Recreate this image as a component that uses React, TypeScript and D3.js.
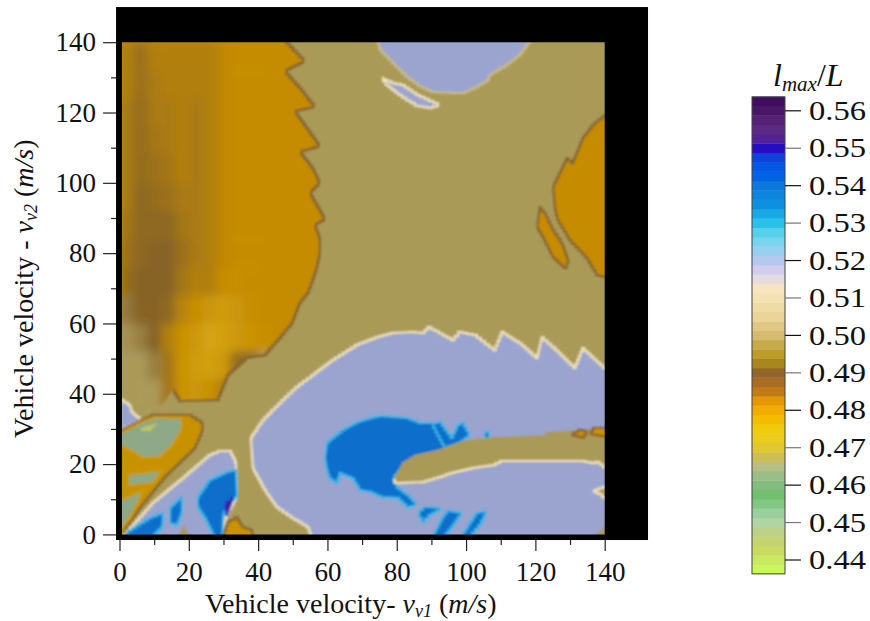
import * as d3 from 'd3';
import { useEffect, useRef } from 'react';

type Pt = [number, number];

const xMajor = [0, 20, 40, 60, 80, 100, 120, 140];
const xMinor = [10, 30, 50, 70, 90, 110, 130];
const yMajor = [0, 20, 40, 60, 80, 100, 120, 140];
const yMinor = [10, 30, 50, 70, 90, 110, 130];
const barTicks = [0.44, 0.45, 0.46, 0.47, 0.48, 0.49, 0.5, 0.51, 0.52, 0.53, 0.54, 0.55, 0.56];

// contour levels of lmax/L
const mapLevels = [0.445, 0.455, 0.472, 0.476, 0.481, 0.4905, 0.497, 0.51, 0.518, 0.53, 0.541, 0.552, 0.56];
const mapColors = ['#c0c860', '#8ea987', '#d6a814', '#cc980a', '#c68c00', '#84622a', '#aa9a58', '#f0e2bc', '#9aa4ce', '#35b4e6', '#0a6ecc', '#3a10b0', '#5a1a70'];

const barLevels = [0.4363, 0.443, 0.447, 0.451, 0.454, 0.4575, 0.461, 0.464, 0.467, 0.47, 0.474, 0.478, 0.482, 0.484, 0.487, 0.4895, 0.4915, 0.494, 0.497, 0.5, 0.505, 0.51, 0.513, 0.515, 0.518, 0.52, 0.524, 0.528, 0.531, 0.535, 0.54, 0.543, 0.547, 0.5505, 0.553, 0.556, 0.56, 0.5637];
const barColors = ['#c8ff60', '#c8d860', '#c0d080', '#a8d8b0', '#88c888', '#70c070', '#88bc80', '#acc090', '#c8bc60', '#e0c830', '#f0d010', '#f4b800', '#f0a000', '#c88010', '#b07020', '#8e5e2e', '#9e7a20', '#b89818', '#c4a640', '#d6bc70', '#ead498', '#f4e2b0', '#f6e6c0', '#e4dce0', '#d0ccf0', '#b8c8f0', '#88d4f0', '#50d0ea', '#18b8e8', '#1090e0', '#0878dc', '#0060e8', '#0c50e0', '#2c00c0', '#5c2a8e', '#5b2a80', '#4a1668', '#3d0d5c'];

// upper-left lobe: jagged outer boundary first, then the faded lower-left side
const lobeEdge: Pt[] = [[47.75, 140.5], [53.5, 134.6], [47.75, 131.8], [52.1, 127], [56.4, 121.6], [50.6, 120.4], [54.1, 115.6], [57.8, 110.5], [52.1, 108.8], [55.8, 104.2], [57.8, 100], [55, 97.1], [59.3, 89.7], [56.4, 88], [57.8, 84.3], [57.8, 80], [57, 76], [55.5, 71.5], [54.4, 68.7], [52, 65.8], [49.8, 60.1], [46.3, 55.9], [42, 51], [36.8, 50.2], [31.3, 45.3], [28.4, 38.2], [17.5, 37.9], [15.4, 41.1]];
const lobeFade: Pt[] = [[11.7, 48.2], [7.4, 53.9], [0.7, 61], [-1, 61], [-1, 140.5]];
const lobeFadeWide: Pt[] = [[12, 36.5], [-1, 36.5], [-1, 140.5]];

// lobe interior, rows from v2=140 downwards (8 m/s each), columns from v1=0 (4 m/s each)
const lobeRowTops = [140, 132, 124, 116, 108, 100, 92, 84, 76, 68, 60, 52, 44];
const lobeColStarts = [0, 4, 8, 12, 16, 20, 24, 28, 32, 36, 40];
const lobeValues = [
  [0.484, 0.487, 0.484, 0.484, 0.484, 0.484, 0.484, 0.482, 0.481, 0.481, 0.481],
  [0.484, 0.487, 0.485, 0.484, 0.484, 0.484, 0.484, 0.482, 0.481, 0.481, 0.481],
  [0.485, 0.488, 0.485, 0.485, 0.484, 0.485, 0.484, 0.482, 0.481, 0.481, 0.481],
  [0.485, 0.488, 0.486, 0.485, 0.484, 0.485, 0.484, 0.482, 0.481, 0.481, 0.481],
  [0.485, 0.488, 0.487, 0.486, 0.484, 0.485, 0.484, 0.482, 0.481, 0.481, 0.481],
  [0.485, 0.489, 0.488, 0.487, 0.485, 0.485, 0.484, 0.482, 0.481, 0.481, 0.481],
  [0.486, 0.489, 0.489, 0.489, 0.486, 0.485, 0.484, 0.482, 0.481, 0.481, 0.481],
  [0.487, 0.489, 0.49, 0.49, 0.487, 0.485, 0.484, 0.482, 0.481, 0.481, 0.481],
  [0.488, 0.49, 0.49, 0.49, 0.486, 0.484, 0.484, 0.481, 0.48, 0.481, 0.481],
  [0.493, 0.49, 0.49, 0.489, 0.483, 0.48, 0.477, 0.475, 0.477, 0.48, 0.481],
  [0.496, 0.494, 0.49, 0.484, 0.479, 0.476, 0.473, 0.474, 0.476, 0.478, 0.48],
  [0.497, 0.497, 0.494, 0.486, 0.478, 0.475, 0.474, 0.476, 0.488, 0.492, 0.497],
  [0.497, 0.497, 0.497, 0.486, 0.478, 0.477, 0.479, 0.484, 0.488, 0.497, 0.497],
];

const rightLobe: Pt[] = [[141, 119.9], [136.6, 116.4], [133.7, 112.7], [130.8, 105.6], [129.1, 107], [127.1, 102.8], [125.1, 98.8], [125.7, 92.3], [126.5, 89.4], [130, 83.7], [134.9, 78.6], [137.8, 73.8], [141, 72.9]];
const rightSliver: Pt[] = [[121.3, 93], [122.8, 91.4], [125.1, 86.6], [127.7, 82.9], [129.7, 77.2], [128.5, 75.8], [125.1, 78.9], [122.2, 84.6], [120.5, 87.4]];
const topCap: Pt[] = [[74.3, 141], [75.2, 137.8], [78, 135], [83, 130.1], [86.7, 127.5], [90.4, 125.8], [99.1, 125.5], [103.1, 127.2], [106.3, 129.2], [106.9, 130.7], [111.8, 133.5], [115.5, 136.3], [119, 141]];
const topSliver: Pt[] = [[75.7, 129.8], [78.9, 128.4], [81.8, 127.8], [86.1, 125], [92.5, 122.1], [89.6, 121.3], [85.8, 121.9], [80.9, 125], [77.2, 127.8]];
const centralRegion: Pt[] = [[55.5, -1], [54.4, 2.1], [50, 4.7], [45.4, 7.8], [42, 12.6], [38.5, 18.9], [37.9, 27.4], [41.4, 32.5], [47.2, 38.2], [51.2, 41.9], [55.8, 45.3], [61.6, 49.6], [68.5, 53.9], [74.3, 56.1], [78.9, 57.3], [84.4, 57.6], [87.6, 57.3], [89.3, 59], [96.2, 55.3], [98.2, 57.6], [102.6, 56.7], [108.3, 52.4], [110.4, 57.6], [115.6, 54.4], [120.5, 50.2], [121.9, 56.1], [126.2, 52.4], [131.4, 47.3], [133.7, 53], [140, 47.3], [141, 47], [141, -1]];
const blueBlob: Pt[] = [[59.3, 21.7], [59.9, 26], [61.6, 27.4], [64.5, 29.7], [68.8, 32], [75.2, 33.7], [83, 33.1], [86.7, 31.7], [90.2, 31.7], [93.9, 28.8], [95.9, 26.3], [93.9, 23.4], [85.8, 21.7], [81.8, 18.9], [78.9, 16], [80.3, 13.2], [83.2, 11.2], [85.8, 8.4], [83.2, 7.8], [80.3, 10.4], [76, 10.6], [72.3, 12.1], [69.4, 12.6], [67.4, 16], [63.6, 17.5], [62.8, 14.6], [60.7, 16], [59.9, 18.3]];
const blueSpike: Pt[] = [[90.2, 31.4], [92.5, 32], [95.9, 27.4], [97.7, 31.1], [99.1, 31.7], [101.1, 28.3], [98.2, 26], [93.9, 24.6]];
const blueDot: Pt[] = [[104.9, 28], [106, 29.1], [107.2, 28], [106, 26.6]];
const dashA: Pt[] = [[86.1, 6.1], [88.1, 7.8], [93, 7.5], [89.6, 5.5], [87.6, 3.5]];
const dashB: Pt[] = [[90.5, -0.5], [93.3, 4.9], [94.8, 6.7], [98.8, 6.1], [95.9, 2.1], [93.9, -0.5]];
const dashC: Pt[] = [[98.8, -0.5], [103.1, 6.1], [106, 6.7], [104, 2.7], [101.1, -0.5]];
const armTop: Pt[] = [[78.9, 15.5], [81.8, 20.6], [85.3, 22.6], [91.7, 24], [99.7, 26.8], [107.8, 27.7], [122.3, 28.3], [123.3, 29.1], [141, 30.3]];
const armBottom: Pt[] = [[141, 19], [140, 19.2], [138, 20.6], [136.6, 20.3], [133.7, 20.9], [110.4, 20.9], [107.8, 19.7], [102, 18.9], [95.9, 17.5], [92.5, 16.3], [87.6, 14.9], [80, 14.6], [78.9, 15.5]];
const armSpotA: Pt[] = [[130.3, 28.3], [133, 29.8], [135.2, 29.2], [133.7, 27.5]];
const armSpotB: Pt[] = [[135.7, 28.6], [136.9, 30.3], [141, 30.3], [141, 27.7]];
const edgePatch: Pt[] = [[136.6, 12.3], [140, 13.5], [141, 13.5], [141, 9.8], [138.6, 11.5]];
const cornerPatch: Pt[] = [[136.6, -1], [141, 3.2], [141, -1]];

const leftPatch: Pt[] = [[-1, 38.2], [0.7, 38.2], [3, 36.8], [3.6, 34.8], [5.3, 33.4], [6.2, 32.3], [0.7, 30], [-1, 30]];
const cluster: Pt[] = [[-1, 29.7], [0.7, 29.7], [9.7, 34], [20.3, 34], [24.1, 31.7], [23.8, 29.1], [21.8, 24.6], [18.3, 21.2], [13.7, 16.9], [9.4, 11.8], [5.9, 7.5], [1.6, 1.3], [0.7, -1], [-1, -1]];
const greenA: Pt[] = [[-1, 29.1], [1, 29.1], [6.5, 32], [10.2, 33.4], [18, 33.1], [18, 29.7], [15.4, 25.4], [11.7, 22], [6.8, 21.7], [3, 24], [1, 24.9], [-1, 24.9]];
const greenSpot: Pt[] = [[6.5, 30.3], [11.1, 31.7], [8.8, 29.4], [5.9, 29.5]];
const greenB: Pt[] = [[2.5, 17.2], [6.8, 17.5], [12.6, 18.3], [9.7, 14.6], [2.5, 13.8]];
const greenC: Pt[] = [[-1, 10.1], [1, 10.1], [6.8, 12.6], [5.3, 8.9], [3, 4.7], [1, 2.1], [-1, 2.1]];
const wedge: Pt[] = [[0.7, -1], [9.7, 9], [18.3, 16], [26.1, 22.6], [29, 23.7], [31.9, 23.7], [33.6, 20.6], [33.9, 10.6], [31.3, 6.1], [29.6, 1.3], [29, -1]];
const wedgeBlueA: Pt[] = [[22.6, 10.6], [26.1, 15.5], [31, 17.7], [33.6, 18.3], [33.9, 10.6], [31.3, 8.9], [29.9, 5.5], [29.6, -1], [27.6, -1], [24.7, 4.7], [22.6, 7.8]];
const wedgeBlueB: Pt[] = [[14.6, 7.5], [18, 10.6], [18, 6.1], [16.6, 2.7], [14.6, 3.2]];
const wedgeBlueC: Pt[] = [[1.9, 0.4], [8.8, 4.7], [12.6, 6.1], [12.3, 2.1], [9.7, -0.5], [1.9, -0.5]];
const wedgeCore: Pt[] = [[30.4, 8.4], [32.7, 10.6], [31.6, 7.5], [31, 5.5]];
const wedgeSpot: Pt[] = [[16.9, -1], [18.3, 2.7], [20.9, -1]];
const footLobe: Pt[] = [[29.9, -1], [31.3, 3.5], [33.9, 4.9], [35.6, 2.1], [38.2, 1.3], [38.5, -1]];

// [outline, fill level, edge level], painted in this order
const lowerRegions: [Pt[], number, number | null][] = [
  [rightLobe, 0.481, 0.4905],
  [rightSliver, 0.481, 0.4905],
  [topCap, 0.518, 0.503],
  [topSliver, 0.518, 0.51],
  [centralRegion, 0.518, 0.51],
  [blueBlob, 0.541, 0.53],
  [blueSpike, 0.541, 0.53],
  [blueDot, 0.541, 0.53],
  [dashA, 0.541, 0.53],
  [dashB, 0.541, 0.53],
  [dashC, 0.541, 0.53],
  [[...armTop, ...armBottom], 0.497, null],
  [armSpotA, 0.478, 0.4905],
  [armSpotB, 0.478, 0.4905],
  [edgePatch, 0.497, 0.51],
  [cornerPatch, 0.497, null],
  [leftPatch, 0.518, 0.51],
  [cluster, 0.479, 0.4905],
  [greenA, 0.455, 0.476],
  [greenSpot, 0.445, null],
  [greenB, 0.455, 0.476],
  [greenC, 0.455, 0.476],
  [wedge, 0.518, 0.51],
  [wedgeBlueA, 0.541, 0.53],
  [wedgeBlueB, 0.541, 0.53],
  [wedgeBlueC, 0.541, 0.53],
  [wedgeCore, 0.56, 0.549],
  [wedgeSpot, 0.497, null],
  [footLobe, 0.478, 0.4905],
];

const WIDTH = 870;
const HEIGHT = 621;
const FONT = '"Liberation Serif", "Times New Roman", serif';
const CELL = 1.3; // the source map is a coarse grid, outlines show its stair steps

// split each segment to about one grid cell, so the step curve gives small stairs
function toCells(points: Pt[], closeIt: boolean): Pt[] {
  const pts = closeIt ? [...points, points[0]] : points;
  const out: Pt[] = [pts[0]];
  for (let i = 1; i < pts.length; i++) {
    const [a, b] = [pts[i - 1], pts[i]];
    const n = Math.max(1, Math.round(Math.hypot(b[0] - a[0], b[1] - a[1]) / CELL));
    for (let k = 1; k <= n; k++) {
      out.push([a[0] + ((b[0] - a[0]) * k) / n, a[1] + ((b[1] - a[1]) * k) / n]);
    }
  }
  return out;
}

export default function App() {
  const svgRef = useRef<SVGSVGElement>(null);

  useEffect(() => {
    if (!svgRef.current) return;
    const svg = d3.select(svgRef.current);
    svg.selectAll('*').remove();

    const x = d3.scaleLinear().domain([0, 140]).range([119.5, 604.7]);
    const y = d3.scaleLinear().domain([0, 140]).range([534.4, 42.2]);
    const fill = d3.scaleLinear<string>().domain(mapLevels).range(mapColors).interpolate(d3.interpolateRgb);
    const barFill = d3.scaleLinear<string>().domain(barLevels).range(barColors).interpolate(d3.interpolateRgb);
    const barY = d3.scaleLinear().domain([0.44, 0.56]).range([560, 110.8]);

    const line = d3.line<Pt>().x((d) => x(d[0])).y((d) => y(d[1]));
    const stairs = d3.line<Pt>().x((d) => x(d[0])).y((d) => y(d[1])).curve(d3.curveStep);
    const closedStairs = (pts: Pt[]) => `${stairs(toCells(pts, true))}Z`;
    const openStairs = (pts: Pt[]) => stairs(toCells(pts, false));

    const defs = svg.append('defs');
    defs.append('filter').attr('id', 'soft').append('feGaussianBlur').attr('stdDeviation', 0.8);
    defs.append('filter').attr('id', 'softer').attr('x', '-10%').attr('y', '-10%').attr('width', '120%').attr('height', '120%').append('feGaussianBlur').attr('stdDeviation', 4.5);
    defs.append('filter').attr('id', 'barSoft').append('feGaussianBlur').attr('stdDeviation', 0.5);
    defs.append('clipPath').attr('id', 'plot').append('rect')
      .attr('x', x(0.7)).attr('y', y(140)).attr('width', x(140) - x(0.7)).attr('height', y(0) - y(140));
    defs.append('clipPath').attr('id', 'lobe').append('path').attr('d', `${line([...lobeEdge, ...lobeFadeWide])}Z`);

    // black frame behind the map
    svg.append('rect')
      .attr('x', x(-1)).attr('y', y(150))
      .attr('width', x(152.5) - x(-1)).attr('height', y(-1.6) - y(150))
      .attr('fill', '#000');

    const plot = svg.append('g').attr('clip-path', 'url(#plot)');
    const map = plot.append('g').attr('filter', 'url(#soft)');
    map.append('rect')
      .attr('x', x(-1)).attr('y', y(141))
      .attr('width', x(141) - x(-1)).attr('height', y(-1) - y(141))
      .attr('fill', fill(0.497));

    map.append('path').attr('d', closedStairs([...lobeEdge, ...lobeFade])).attr('fill', fill(0.481));
    const heat = map.append('g').attr('clip-path', 'url(#lobe)').append('g').attr('filter', 'url(#softer)');
    lobeValues.forEach((row, r) => {
      heat.selectAll(`.row${r}`)
        .data(row)
        .join('rect')
        .attr('x', (_, c) => x(lobeColStarts[c]))
        .attr('y', y(lobeRowTops[r]))
        .attr('width', x(4) - x(0) + 0.5)
        .attr('height', y(0) - y(8) + 0.5)
        .attr('fill', (d) => fill(d));
    });
    map.append('path').attr('d', openStairs(lobeEdge)).attr('fill', 'none').attr('stroke', fill(0.4905)).attr('stroke-width', 2.2);

    map.selectAll('.region')
      .data(lowerRegions)
      .join('path')
      .attr('d', (d) => closedStairs(d[0]))
      .attr('fill', (d) => fill(d[1]))
      .attr('stroke', (d) => (d[2] === null ? 'none' : fill(d[2])))
      .attr('stroke-width', 2);

    // only the underside of the arm has the light rim
    map.append('path').attr('d', openStairs(armBottom)).attr('fill', 'none').attr('stroke', fill(0.51)).attr('stroke-width', 2);

    const axisText = (sel: d3.Selection<SVGGElement, unknown, null, undefined>) => {
      sel.select('.domain').remove();
      sel.selectAll('text').attr('font-family', FONT).attr('font-size', 27).attr('fill', '#111');
      sel.selectAll('line').attr('stroke', '#222').attr('stroke-width', 1.2);
    };

    const bottom = y(-1.6);
    const left = x(-1);
    svg.append('g').attr('transform', `translate(0,${bottom})`)
      .call(d3.axisBottom(x).tickValues(xMajor).tickSize(11).tickPadding(11))
      .call(axisText);
    svg.append('g').attr('transform', `translate(0,${bottom})`)
      .call(d3.axisBottom(x).tickValues(xMinor).tickSize(5).tickFormat(() => ''))
      .call(axisText);
    svg.append('g').attr('transform', `translate(${left},0)`)
      .call(d3.axisLeft(y).tickValues(yMajor).tickSize(13).tickPadding(7))
      .call(axisText);
    svg.append('g').attr('transform', `translate(${left},0)`)
      .call(d3.axisLeft(y).tickValues(yMinor).tickSize(5).tickFormat(() => ''))
      .call(axisText);

    const velocityTitle = (text: d3.Selection<SVGTextElement, unknown, null, undefined>, lead: string, sub: string) => {
      text.attr('font-family', FONT).attr('font-size', 28).attr('fill', '#111');
      text.append('tspan').text(lead);
      text.append('tspan').attr('font-style', 'italic').text('v');
      text.append('tspan').attr('font-style', 'italic').attr('font-size', 18).attr('dy', 4).text(sub);
      text.append('tspan').attr('dy', -4).text(' (');
      text.append('tspan').attr('font-style', 'italic').text('m/s');
      text.append('tspan').text(')');
    };
    svg.append('text').attr('x', 205).attr('y', 613)
      .call(velocityTitle, 'Vehicle velocity- ', 'v1');
    svg.append('text').attr('transform', 'translate(33,438) rotate(-90)')
      .call(velocityTitle, 'Vehicle velocity - ', 'v2');

    // colour bar
    const barStep = 0.0025;
    const barBottom = 0.4363;
    const bands = d3.range(barBottom, 0.5637, barStep);
    const barG = svg.append('g');
    barG.append('g').attr('filter', 'url(#barSoft)').selectAll('rect')
      .data(bands)
      .join('rect')
      .attr('x', 752)
      .attr('width', 33)
      .attr('y', (d) => barY(d + barStep))
      .attr('height', barY(0) - barY(barStep) + 0.4)
      .attr('fill', (d) => barFill(d + barStep / 2));
    barG.append('rect')
      .attr('x', 752).attr('width', 33)
      .attr('y', barY(0.5637)).attr('height', barY(barBottom) - barY(0.5637))
      .attr('fill', 'none').attr('stroke', '#444').attr('stroke-width', 1);

    const barTickG = svg.append('g').selectAll('g')
      .data(barTicks)
      .join('g')
      .attr('transform', (d) => `translate(785,${barY(d)})`);
    barTickG.append('line')
      .attr('x2', 16)
      .attr('stroke', (_, i) => (i % 2 === 0 ? '#111' : '#777'))
      .attr('stroke-width', 1.2);
    barTickG.append('text')
      .attr('x', 24)
      .attr('dy', '0.34em')
      .attr('font-family', FONT)
      .attr('font-size', 27)
      .attr('textLength', 57)
      .attr('lengthAdjust', 'spacingAndGlyphs')
      .attr('fill', '#111')
      .text((d) => d.toFixed(2));

    const barTitle = svg.append('text')
      .attr('x', 773).attr('y', 86)
      .attr('font-family', FONT).attr('font-size', 32).attr('fill', '#111');
    barTitle.append('tspan').attr('font-style', 'italic').text('l');
    barTitle.append('tspan').attr('font-style', 'italic').attr('font-size', 21).attr('dy', 5).text('max');
    barTitle.append('tspan').attr('dy', -5).text('/');
    barTitle.append('tspan').attr('font-style', 'italic').text('L');
  }, []);

  return (
    <svg
      ref={svgRef}
      width={WIDTH}
      height={HEIGHT}
      style={{ position: 'absolute', left: 0, top: 0, display: 'block' }}
      role="img"
      aria-label="Contour map of lmax/L against vehicle velocities"
    />
  );
}
